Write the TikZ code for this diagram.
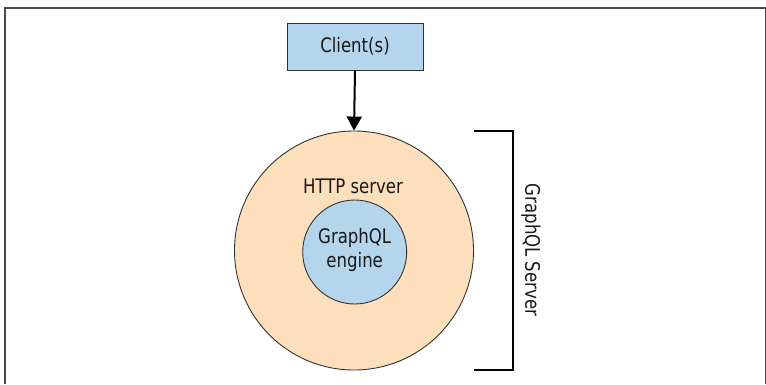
\documentclass[tikz,border=0pt]{standalone}
\usepackage{fontspec}
\setmainfont[FakeStretch=0.92]{DejaVu Sans Condensed}
\usetikzlibrary{arrows.meta}
\definecolor{boxblue}{HTML}{B4D5EC}
\definecolor{peach}{HTML}{FDDFBC}
\definecolor{framegray}{HTML}{4A4A4A}
\begin{document}
\begin{tikzpicture}[x=1pt,y=-1pt,
  lbl/.style={font=\fontsize{20}{22}\selectfont, text=black!90},
  clientbox/.style={draw=black!80, line width=1pt, fill=boxblue, minimum width=136pt, minimum height=47pt, inner sep=0pt},
  ring/.style={circle, draw=black!80, line width=0.9pt, inner sep=0pt},
  bracketline/.style={line width=2pt, black}]
  \useasboundingbox (0,0) rectangle (766,384);
  % outer frame
  \draw[framegray, line width=1.4pt] (5,384) -- (5,8) -- (765.5,8) -- (765.5,384);
  % client box
  \node[clientbox, lbl] (client) at (355,46.5) {Client(s)};
  % server rings
  \node[ring, fill=peach, minimum size=239pt] (http) at (354,250.5) {};
  \node[ring, fill=boxblue, minimum size=104pt] (engine) at (354.7,252) {};
  \node[lbl] (httplbl) at (353,186) {HTTP server};
  \node[lbl, align=center, font=\fontsize{20}{24}\selectfont] (englbl) at (354.7,250) {GraphQL\\engine};
  % request arrow
  \draw[line width=2pt, -{Triangle[length=14pt,width=15pt]}] (client.south) -- (http.north);
  % bracket spanning the server
  \coordinate (btop) at (474,131);
  \coordinate (bbot) at (474,370);
  \draw[bracketline] (btop) -- ++(39,0) coordinate (bt) |- (bbot);
  \node[lbl, rotate=-90] (srvlbl) at (531,250) {GraphQL Server};
\end{tikzpicture}
\end{document}
